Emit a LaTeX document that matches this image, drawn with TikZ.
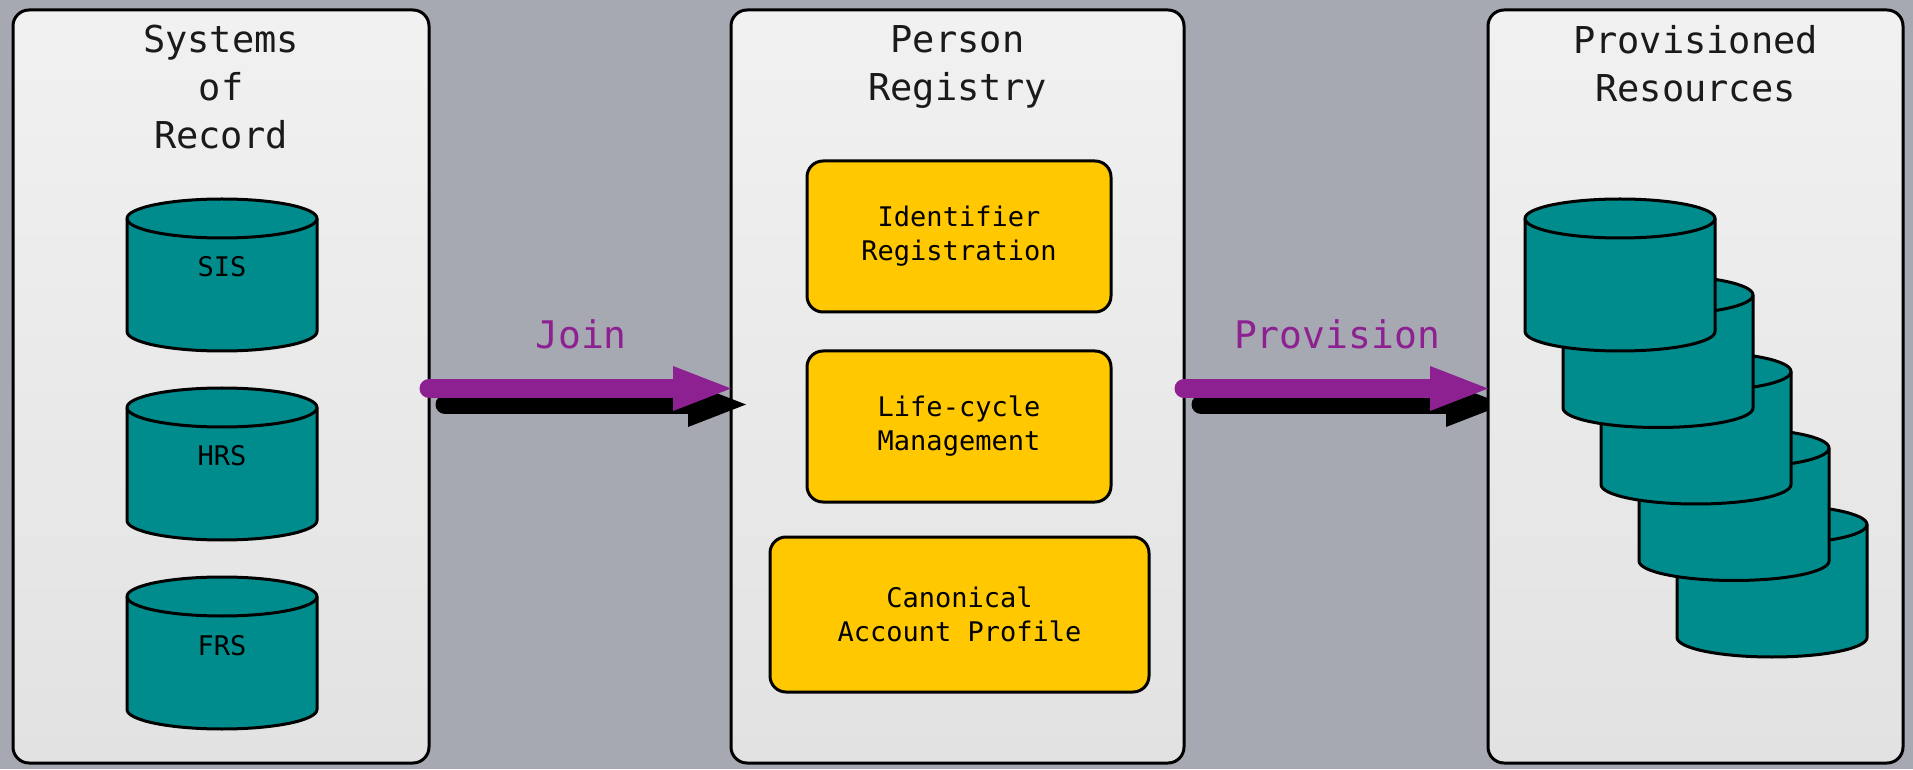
\documentclass[tikz,border=0pt]{standalone}
\usepackage{fontspec}
\setmonofont{DejaVu Sans Mono}
\usetikzlibrary{arrows.meta}
\definecolor{bggray}{HTML}{A6A9B1}
\definecolor{panelTop}{HTML}{F1F1F1}
\definecolor{panelBot}{HTML}{E2E2E2}
\definecolor{dbteal}{HTML}{008C8C}
\definecolor{gold}{HTML}{FFC800}
\definecolor{purp}{HTML}{8E2191}
\definecolor{titlecol}{HTML}{1A1A1A}
\pgfdeclarelayer{back}
\pgfsetlayers{back,main}
\newcommand\dbcyl[2]{%
  \filldraw[cylbody] ({#1},{769-#2-19.5}) -- ({#1},{769-#2-152+19.5})
    arc[start angle=180,end angle=360,x radius=95pt,y radius=19.5pt]
    -- ({#1+190},{769-#2-19.5})
    arc[start angle=0,end angle=180,x radius=95pt,y radius=19.5pt] -- cycle;
  \draw[cylbody,fill=none] ({#1},{769-#2-19.5})
    arc[start angle=180,end angle=360,x radius=95pt,y radius=19.5pt];
}
\begin{document}
\begin{tikzpicture}[x=1pt,y=1pt,
  panel/.style={draw=black, line width=3pt, rounded corners=16pt, top color=panelTop, bottom color=panelBot, inner sep=0pt, outer sep=0pt},
  title/.style={font=\fontsize{37}{48}\selectfont\ttfamily, text=titlecol, align=center, inner sep=0pt, anchor=north},
  procbox/.style={draw=black, line width=3pt, rounded corners=16pt, fill=gold, font=\fontsize{27}{34}\selectfont\ttfamily, text=black, align=center, inner sep=0pt, outer sep=0pt},
  dblabel/.style={font=\fontsize{27}{34}\selectfont\ttfamily, text=black, inner sep=0pt},
  cylbody/.style={fill=dbteal, draw=black, line width=3pt, line join=round},
  flowarrow/.style={line width=19pt, line cap=round, color=purp, -{Triangle[length=58pt,width=45pt,line width=0pt]}},
  flowshadow/.style={flowarrow, color=black},
  flowlabel/.style={font=\fontsize{38}{46}\selectfont\ttfamily, text=purp, anchor=base, inner sep=0pt}]
\useasboundingbox (0,0) rectangle (1913,769);
\begin{pgfonlayer}{back}
\fill[bggray] (0,0) rectangle (1913,769);
\end{pgfonlayer}
% panels
\node[panel, minimum width=416pt, minimum height=753pt] (sor) at (221,382.5) {};
\node[panel, minimum width=453pt, minimum height=753pt] (reg) at (957.5,382.5) {};
\node[panel, minimum width=415pt, minimum height=753pt] (res) at (1695.5,382.5) {};
% titles
\node[title] (sorT) at (221,744) {Systems\\of\\Record};
\node[title] (regT) at (957.5,744) {Person\\Registry};
\node[title] (resT) at (1695.5,744) {Provisioned\\Resources};
% systems of record
\dbcyl{127}{199}
\dbcyl{127}{388}
\dbcyl{127}{577}
\node[dblabel] (sis) at (222,502) {SIS};
\node[dblabel] (hrs) at (222,313.5) {HRS};
\node[dblabel] (frs) at (222,123.5) {FRS};
% provisioned resources stack
\dbcyl{1677}{505}
\dbcyl{1639}{428.5}
\dbcyl{1601}{352}
\dbcyl{1563}{275.5}
\dbcyl{1525}{199}
% registry components
\node[procbox, minimum width=304pt, minimum height=151pt] (idr) at (959,532.5) {Identifier\\Registration};
\node[procbox, minimum width=304pt, minimum height=151pt] (lcm) at (959,342.5) {Life-cycle\\Management};
\node[procbox, minimum width=379pt, minimum height=155pt] (cap) at (959.5,154.5) {Canonical\\Account Profile};
% join arrow
\draw[flowshadow] ([shift={(16,-18)}]sor.east) -- ([shift={(15,-18)}]reg.west);
\draw[flowarrow] ([shift={(0,-2)}]sor.east) -- ([shift={(0,-2)}]reg.west);
% provision arrow
\begin{pgfonlayer}{back}
\draw[flowshadow] ([shift={(17,-18)}]reg.east) -- ([shift={(16,-18)}]res.west);
\end{pgfonlayer}
\draw[flowarrow] ([shift={(0,-2)}]reg.east) -- ([shift={(0,-2)}]res.west);
% labels
\node[flowlabel] (join) at (581,420) {Join};
\node[flowlabel] (prov) at (1337,420) {Provision};
\end{tikzpicture}
\end{document}
